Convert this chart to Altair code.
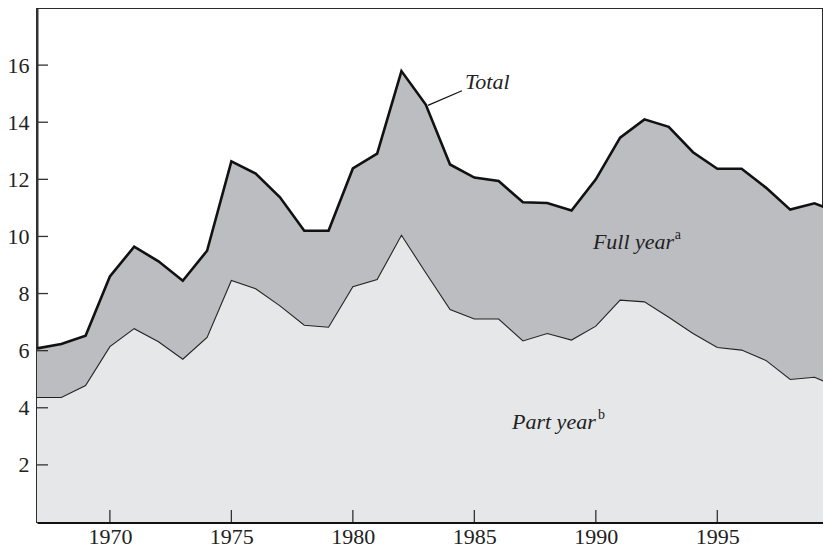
import altair as alt
import pandas as pd

years = list(range(1967, 2001))
total = [6.08, 6.23, 6.52, 8.6, 9.64, 9.13, 8.45, 9.5, 12.63, 12.2, 11.37, 10.2, 10.2,
         12.38, 12.9, 15.79, 14.62, 12.52, 12.06, 11.94, 11.2, 11.17, 10.91, 12.0,
         13.46, 14.1, 13.84, 12.95, 12.37, 12.37, 11.71, 10.94, 11.16, 10.84]
part_year = [4.36, 4.36, 4.78, 6.14, 6.77, 6.31, 5.7, 6.46, 8.46, 8.17, 7.57, 6.89, 6.82,
             8.24, 8.49, 10.04, 8.73, 7.44, 7.11, 7.11, 6.34, 6.6, 6.37, 6.86,
             7.77, 7.71, 7.17, 6.6, 6.11, 6.02, 5.66, 4.99, 5.07, 4.7]

x_ticks = [1970, 1975, 1980, 1985, 1990, 1995]
y_ticks = [2, 4, 6, 8, 10, 12, 14, 16]

label_texts = ["Total", "Full year", "Part year"]
label_x = [1984.62, 1989.88, 1986.55]
label_y = [15.17, 9.57, 3.24]

sup_texts = ["a", "b"]
sup_x = [1993.25, 1990.09]
sup_y = [9.91, 3.59]

leader = {"x1": [1983.09], "y1": [14.59], "x2": [1984.49], "y2": [15.10]}

FONT = "Liberation Serif"
DARK = "#bcbdc1"
LIGHT = "#e6e7e9"
W, H = 786, 514

df = pd.DataFrame({"year": years, "total": total, "part": part_year})
xt = pd.DataFrame({"yr": x_ticks})
yt = pd.DataFrame({"v": y_ticks})
lab = pd.DataFrame({"x": label_x, "y": label_y, "t": label_texts})
sup = pd.DataFrame({"x": sup_x, "y": sup_y, "t": sup_texts})
ld = pd.DataFrame(leader)

xs = alt.Scale(domain=[1967, 1999.35], nice=False, zero=False)
ys = alt.Scale(domain=[0, 18], nice=False, zero=True)

base = alt.Chart(df)

area_full = base.mark_area(color=DARK, clip=True).encode(
    x=alt.X("year:Q", scale=xs, title=None,
            axis=alt.Axis(values=x_ticks, format="d", labelFlush=False, grid=False,
                          tickSize=0, labelFont=FONT, labelFontSize=22,
                          labelColor="#222", labelPadding=4, domainColor="#111",
                          domainWidth=3)),
    y=alt.Y("part:Q", scale=ys, title=None,
            axis=alt.Axis(values=y_ticks, grid=False, tickSize=0, labelFont=FONT,
                          labelFontSize=22, labelColor="#222", labelPadding=8,
                          domainColor="#333", domainWidth=2)),
    y2="total:Q",
)
area_part = base.mark_area(color=LIGHT, clip=True).encode(
    x=alt.X("year:Q", scale=xs, title=None),
    y=alt.Y("part:Q", scale=ys, title=None),
)
line_part = base.mark_line(color="#222", strokeWidth=1.1, clip=True).encode(
    x=alt.X("year:Q", scale=xs, title=None),
    y=alt.Y("part:Q", scale=ys, title=None),
)
line_total = base.mark_line(color="#111", strokeWidth=2.6, clip=True,
                            strokeJoin="miter").encode(
    x=alt.X("year:Q", scale=xs, title=None),
    y=alt.Y("total:Q", scale=ys, title=None),
)

ytick_marks = alt.Chart(yt).mark_rule(color="#333", strokeWidth=1.3).encode(
    y=alt.Y("v:Q", scale=ys, title=None),
    x=alt.value(0), x2=alt.value(11),
)
xtick_marks = alt.Chart(xt).mark_rule(color="#333", strokeWidth=1.3).encode(
    x=alt.X("yr:Q", scale=xs, title=None),
    y=alt.value(H), y2=alt.value(H - 12),
)

leader_line = alt.Chart(ld).mark_rule(color="#111", strokeWidth=1.2).encode(
    x=alt.X("x1:Q", scale=xs, title=None),
    y=alt.Y("y1:Q", scale=ys, title=None),
    x2="x2:Q", y2="y2:Q",
)

labels = alt.Chart(lab).mark_text(font=FONT, fontSize=22, fontStyle="italic",
                                  align="left", baseline="alphabetic",
                                  color="#222").encode(
    x=alt.X("x:Q", scale=xs, title=None),
    y=alt.Y("y:Q", scale=ys, title=None),
    text="t:N",
)
sups = alt.Chart(sup).mark_text(font=FONT, fontSize=14, align="left",
                                baseline="alphabetic", color="#222").encode(
    x=alt.X("x:Q", scale=xs, title=None),
    y=alt.Y("y:Q", scale=ys, title=None),
    text="t:N",
)

chart = alt.layer(
    area_full, area_part, line_part, line_total, ytick_marks, xtick_marks,
    leader_line, labels, sups
).properties(
    width=W, height=H,
    background="white",
    padding={"left": 29, "top": 0, "right": 0, "bottom": 27},
    autosize=alt.AutoSizeParams(type="none"),
).configure_view(
    stroke="#2a2a2a", strokeWidth=2
)

chart.save("out.html", embed_options={"renderer": "svg", "actions": False})
